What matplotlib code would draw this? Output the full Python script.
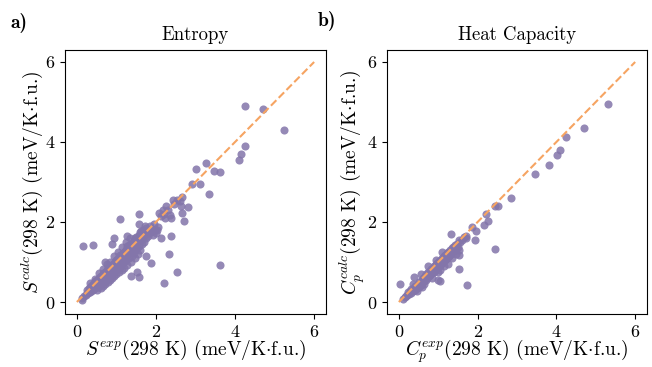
import matplotlib
matplotlib.use('Agg')
import matplotlib.pyplot as plt

plt.rcParams['font.family'] = 'serif'
plt.rcParams['font.serif'] = ['cmr10']
plt.rcParams['mathtext.fontset'] = 'cm'
plt.rcParams['axes.formatter.use_mathtext'] = True
plt.rcParams['axes.unicode_minus'] = False

# --- entropy (panel a): experimental vs calculated, meV/K per f.u.
s_exp = [4.24, 4.70, 5.25, 4.24, 4.15, 4.11, 3.26, 3.00, 3.46, 3.63, 3.12, 2.92,
         3.33, 2.67, 2.53, 2.42, 2.63, 2.82, 2.25, 2.67, 2.71, 2.39, 2.20, 2.08,
         1.57, 1.09, 0.15, 0.42, 2.37, 2.33, 3.62, 2.52, 2.20, 1.56, 1.36, 1.51,
         0.93, 0.89, 1.56, 1.27, 2.12, 2.03, 1.86, 1.76, 0.72, 0.14, 0.25, 1.88,
         0.12, 0.18, 0.22, 0.25, 0.28, 0.30, 0.32, 0.35, 0.36, 0.38, 0.40, 0.42,
         0.44, 0.45, 0.47, 0.48, 0.50, 0.50, 0.52, 0.54, 0.55, 0.56, 0.58, 0.60,
         0.60, 0.62, 0.63, 0.65, 0.66, 0.68, 0.70, 0.70, 0.72, 0.74, 0.75, 0.77,
         0.78, 0.80, 0.80, 0.82, 0.84, 0.85, 0.86, 0.88, 0.88, 0.90, 0.92, 0.93,
         0.94, 0.95, 0.97, 0.98, 1.00, 1.00, 1.02, 1.03, 1.05, 1.06, 1.08, 1.10,
         1.10, 1.12, 1.14, 1.15, 1.16, 1.18, 1.20, 1.20, 1.22, 1.24, 1.25, 1.27,
         1.28, 1.30, 1.32, 1.33, 1.35, 1.36, 1.38, 1.40, 1.40, 1.42, 1.44, 1.45,
         1.46, 1.48, 1.50, 1.50, 1.52, 1.54, 1.55, 1.56, 1.58, 1.60, 1.60, 1.62,
         1.64, 1.66, 1.68, 1.70, 1.72, 1.74, 1.76, 1.78, 1.80, 1.82, 1.85, 1.88,
         1.90, 1.92, 1.95, 1.98, 2.00, 2.05, 0.55, 0.75, 0.95, 1.05, 1.15, 1.25,
         1.35, 0.85, 0.65, 2.12, 2.18, 2.22, 2.30, 2.35, 2.45, 2.60,
         0.58, 0.68, 0.78, 0.88, 0.98, 1.08, 1.18, 1.28, 1.38, 1.48, 1.58, 1.68,
         0.46, 0.34, 1.26, 1.46, 1.62, 1.72]
s_calc = [4.90, 4.83, 4.31, 3.90, 3.69, 3.55, 3.47, 3.32, 3.28, 3.26, 2.95, 2.95,
          2.69, 2.62, 2.54, 2.54, 2.40, 2.37, 2.39, 2.22, 2.03, 2.09, 2.20, 2.22,
          2.21, 2.08, 1.41, 1.43, 1.66, 1.21, 0.92, 0.75, 0.47, 0.62, 0.66, 0.75,
          1.59, 1.45, 1.95, 1.64, 1.60, 1.80, 1.76, 1.16, 0.99, 0.06, 0.22, 0.97,
          0.10, 0.15, 0.18, 0.30, 0.22, 0.35, 0.25, 0.40, 0.28, 0.33, 0.45, 0.30,
          0.38, 0.52, 0.35, 0.42, 0.55, 0.30, 0.46, 0.38, 0.60, 0.50, 0.42, 0.65,
          0.35, 0.55, 0.48, 0.70, 0.40, 0.60, 0.52, 0.75, 0.45, 0.66, 0.58, 0.80,
          0.50, 0.70, 0.62, 0.85, 0.55, 0.75, 0.68, 0.92, 0.60, 0.80, 0.72, 0.98,
          0.65, 0.85, 0.78, 1.05, 0.70, 0.90, 0.82, 1.10, 0.95, 0.75, 1.00, 0.88,
          1.18, 1.05, 0.80, 0.95, 1.22, 1.10, 1.00, 0.85, 1.28, 1.15, 1.05, 0.92,
          1.35, 1.20, 1.10, 1.42, 1.25, 1.00, 1.32, 1.15, 1.48, 1.38, 1.22, 1.55,
          1.30, 1.10, 1.45, 1.62, 1.35, 1.20, 1.52, 1.68, 1.40, 1.30, 1.75, 1.55,
          1.45, 1.62, 1.80, 1.50, 1.70, 1.60, 1.85, 1.72, 1.65, 1.78, 1.90, 1.75,
          1.82, 1.68, 1.95, 1.80, 1.72, 1.88, 0.72, 0.95, 1.15, 1.25, 1.38, 1.50,
          1.60, 1.00, 0.82, 2.15, 2.30, 2.10, 2.30, 2.18, 2.45, 2.52,
          0.62, 0.72, 0.84, 0.92, 1.02, 1.12, 1.22, 1.32, 1.42, 1.52, 1.62, 1.72,
          0.58, 0.48, 1.40, 1.60, 1.78, 1.90]

# --- heat capacity (panel b)
cp_exp = [5.30, 4.69, 4.24, 4.09, 4.02, 3.81, 3.46, 2.86, 2.52, 2.44, 2.22, 2.27,
          2.16, 1.95, 1.87, 1.93, 2.45, 1.32, 1.54, 1.74, 0.02, 0.19, 1.04, 0.38,
          1.70, 1.54, 1.52, 1.53, 0.99,
          0.10, 0.15, 0.20, 0.22, 0.25, 0.28, 0.30, 0.32, 0.35, 0.38, 0.40, 0.42,
          0.45, 0.48, 0.50, 0.52, 0.55, 0.58, 0.60, 0.62, 0.64, 0.66, 0.68, 0.70,
          0.72, 0.74, 0.76, 0.78, 0.80, 0.82, 0.84, 0.86, 0.88, 0.90, 0.92, 0.94,
          0.96, 0.98, 1.00, 1.02, 1.04, 1.06, 1.08, 1.10, 1.12, 1.14, 1.16, 1.18,
          1.20, 1.22, 1.24, 1.26, 1.28, 1.30, 1.32, 1.34, 1.36, 1.38, 1.40, 1.42,
          1.45, 1.48, 1.50, 1.55, 1.60, 1.65, 1.70, 0.55, 0.75, 0.35, 0.85, 1.00,
          1.15, 1.25, 1.05, 0.65, 0.45, 1.10, 0.95, 0.60, 1.35, 1.45,
          0.70, 0.80, 0.90, 1.00, 1.10, 1.20, 1.30]
cp_calc = [4.95, 4.34, 4.13, 3.80, 3.67, 3.43, 3.19, 2.60, 2.39, 2.41, 2.19, 2.03,
           1.93, 1.78, 1.87, 1.55, 1.32, 1.70, 0.82, 0.42, 0.46, 0.16, 0.52, 0.63,
           1.60, 1.55, 1.18, 1.30, 0.56,
           0.08, 0.12, 0.18, 0.25, 0.20, 0.28, 0.22, 0.32, 0.27, 0.35, 0.30, 0.40,
           0.35, 0.45, 0.38, 0.50, 0.42, 0.55, 0.48, 0.60, 0.52, 0.65, 0.56, 0.70,
           0.60, 0.74, 0.65, 0.78, 0.68, 0.82, 0.72, 0.86, 0.76, 0.90, 0.80, 0.94,
           0.84, 0.98, 0.88, 1.02, 0.92, 1.06, 0.96, 1.10, 1.00, 1.14, 1.04, 1.18,
           1.08, 1.22, 1.12, 1.26, 1.15, 1.30, 1.20, 1.34, 1.24, 1.38, 1.28, 1.42,
           1.32, 1.45, 1.38, 1.50, 1.55, 1.62, 1.66, 0.70, 0.90, 0.45, 0.60, 0.75,
           0.90, 0.95, 0.80, 0.45, 0.28, 1.25, 1.05, 0.38, 1.10, 1.20,
           0.63, 0.73, 0.83, 0.93, 1.03, 1.13, 1.23]

ident = [0, 6]
titles = ['Entropy', 'Heat Capacity']
tags = ['a)', 'b)']
xlabels = [r'$S^{exp}$(298 K) (meV/K$\cdot$f.u.)',
           r'$C_p^{exp}$(298 K) (meV/K$\cdot$f.u.)']
ylabels = [r'$S^{calc}$(298 K) (meV/K$\cdot$f.u.)',
           r'$C_p^{calc}$(298 K) (meV/K$\cdot$f.u.)']

pc = '#8375aa'
lc = '#f6a462'

fig = plt.figure(figsize=(6.52, 3.67), dpi=100)
ax1 = fig.add_axes([0.0997, 0.1444, 0.4003, 0.7194])
ax2 = fig.add_axes([0.5936, 0.1444, 0.3987, 0.7194])

for ax, xs, ys, t, xl, yl in [(ax1, s_exp, s_calc, titles[0], xlabels[0], ylabels[0]),
                              (ax2, cp_exp, cp_calc, titles[1], xlabels[1], ylabels[1])]:
    ax.scatter(xs, ys, s=34, color=pc, alpha=0.85, linewidths=0, zorder=2)
    ax.plot(ident, ident, '--', color=lc, lw=1.5, zorder=3)
    ax.set_xticks([0, 2, 4, 6])
    ax.set_yticks([0, 2, 4, 6])
    ax.set_xlim(-0.3, 6.3)
    ax.set_ylim(-0.3, 6.3)
    ax.tick_params(labelsize=13)
    ax.set_title(t, fontsize=13.5, pad=7)
    ax.set_xlabel(xl, fontsize=14, labelpad=-1)
    ax.set_ylabel(yl, fontsize=14, labelpad=0)

fig.text(0.016, 0.925, tags[0], fontsize=14, fontfamily='cmb10')
fig.text(0.487, 0.93, tags[1], fontsize=14, fontfamily='cmb10')

fig.savefig('out.png', dpi=100)
